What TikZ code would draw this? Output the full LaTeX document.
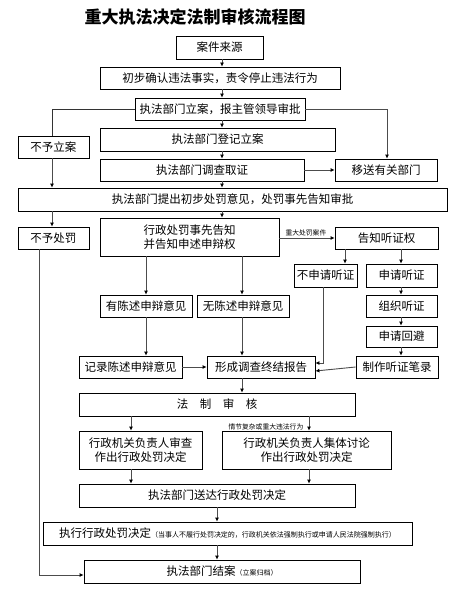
\documentclass[tikz,border=0pt]{standalone}
\usepackage{fontspec}
\setmainfont{Noto Sans CJK SC}
\usetikzlibrary{arrows.meta,positioning}
\tikzset{
  box/.style={draw, line width=0.8pt, align=center, inner sep=1pt, font=\fontsize{11.5}{14}\selectfont},
  arrow/.style={-{Latex[length=4pt,width=4pt,color=black]}, draw=black!70, line width=0.9pt},
  plain/.style={draw=black!80, line width=0.8pt},
  note/.style={font=\fontsize{6.8}{7.5}\selectfont, inner sep=0.5pt, text=black}
}
\newcommand{\smallnote}[1]{{\fontsize{7}{8}\selectfont #1}}

\begin{document}
\begin{tikzpicture}[x=1pt, y=-1pt]
  \useasboundingbox (0,0) rectangle (456,602);
  \node[font=\fontsize{17}{20}\selectfont\bfseries] (title) at (195,17) {重大执法决定法制审核流程图};

  % main column
  \node[box, minimum width=87pt, minimum height=23pt] (src) at (219.5,47.5) {案件来源};
  \node[box, minimum width=240pt, minimum height=22pt] (confirm) at (220,78) {初步确认违法事实，责令停止违法行为};
  \node[box, minimum width=170pt, minimum height=22pt] (lian) at (220,109) {执法部门立案，报主管领导审批};
  \node[box, minimum width=235pt, minimum height=23pt] (dengji) at (217.5,139.5) {执法部门登记立案};
  \node[box, minimum width=71pt, minimum height=22pt] (buli) at (53.5,147) {不予立案};
  \node[box, minimum width=204pt, minimum height=22pt] (diaocha) at (202,170) {执法部门调查取证};
  \node[box, minimum width=102pt, minimum height=22pt] (yisong) at (386,170) {移送有关部门};
  \node[box, minimum width=429pt, minimum height=23pt] (tichu) at (232.5,199.5) {执法部门提出初步处罚意见，处罚事先告知审批};

  % notice and hearing
  \node[box, minimum width=71pt, minimum height=22pt] (bufa) at (53.5,238) {不予处罚};
  \node[box, minimum width=179pt, minimum height=38pt] (gaozhi) at (189.5,237) {行政处罚事先告知\\并告知申述申辩权};
  \node[box, minimum width=103pt, minimum height=22pt] (tingzheng) at (386.5,238) {告知听证权};
  \node[box, minimum width=63pt, minimum height=23pt] (bushen) at (325.5,275.5) {不申请听证};
  \node[box, minimum width=71pt, minimum height=23pt] (shen) at (401.5,275.5) {申请听证};
  \node[box, minimum width=92pt, minimum height=22pt] (youchen) at (146,306) {有陈述申辩意见};
  \node[box, minimum width=92pt, minimum height=22pt] (wuchen) at (243,306) {无陈述申辩意见};
  \node[box, minimum width=71pt, minimum height=22pt] (zuzhi) at (401.5,306) {组织听证};
  \node[box, minimum width=71pt, minimum height=21pt] (huibi) at (401.5,336.5) {申请回避};
  \node[box, minimum width=82pt, minimum height=22pt] (bilu) at (397,367) {制作听证笔录};
  \node[box, minimum width=103pt, minimum height=22pt] (jilu) at (130.5,367) {记录陈述申辩意见};
  \node[box, minimum width=108pt, minimum height=22pt] (baogao) at (261,367) {形成调查终结报告};

  % review and decision
  \node[box, minimum width=276pt, minimum height=23pt] (shenhe) at (217,404.5) {法\hspace{1em}制\hspace{1em}审\hspace{1em}核};
  \node[box, minimum width=123pt, minimum height=38pt] (shencha) at (140.5,450) {行政机关负责人审查\\作出行政处罚决定};
  \node[box, minimum width=169pt, minimum height=38pt] (jiti) at (306.5,450) {行政机关负责人集体讨论\\作出行政处罚决定};
  \node[box, minimum width=276pt, minimum height=23pt] (songda) at (217,495.5) {执法部门送达行政处罚决定};
  \node[box, minimum width=369pt, minimum height=23pt] (zhixing) at (227.5,533.5) {执行行政处罚决定\smallnote{（当事人不履行处罚决定的，行政机关依法强制执行或申请人民法院强制执行）}};
  \node[box, minimum width=276pt, minimum height=23pt] (jiean) at (222,571.5) {执法部门结案\smallnote{（立案归档）}};

  % straight vertical arrows: from/to/x
  \foreach \a/\b/\x in {src/confirm/222,confirm/lian/222,lian/dengji/222,dengji/diaocha/222,diaocha/tichu/222,
      buli/tichu/52,tichu/bufa/52,tichu/gaozhi/222,gaozhi/youchen/146,gaozhi/wuchen/242,
      youchen/jilu/146,wuchen/baogao/242,tingzheng/bushen/345,tingzheng/shen/401,
      shen/zuzhi/401,zuzhi/huibi/401,huibi/bilu/401,baogao/shenhe/242,
      shenhe/shencha/131,shenhe/jiti/309,shencha/songda/131,jiti/songda/309,
      songda/zhixing/217,zhixing/jiean/217}
    \draw[arrow] (\x,0 |- \a.south) -- (\x,0 |- \b.north);

  \draw[plain] (lian.west) -| (52,0 |- buli.north);
  \draw[arrow] (lian.east) -| (387,0 |- yisong.north);
  \draw[arrow] (diaocha.east) -- (yisong.west);
  \draw[arrow] (gaozhi.east |- tingzheng.west) -- (tingzheng.west)
    node[note, pos=0.48, above=1.5pt] (zhongda) {重大处罚案件};
  \draw[arrow] (jilu.east) -- (baogao.west);
  \draw[arrow] (323,0 |- bushen.south) |- ([yshift=4pt]baogao.east);
  \draw[arrow] (bilu.west) -- ([yshift=-4pt]baogao.east);
  \draw[arrow] (39,0 |- bufa.south) |- ([yshift=-3.5pt]jiean.west);

  \node[note, anchor=east] (qingjie) at (304,427) {情节复杂或重大违法行为};
\end{tikzpicture}
\end{document}
